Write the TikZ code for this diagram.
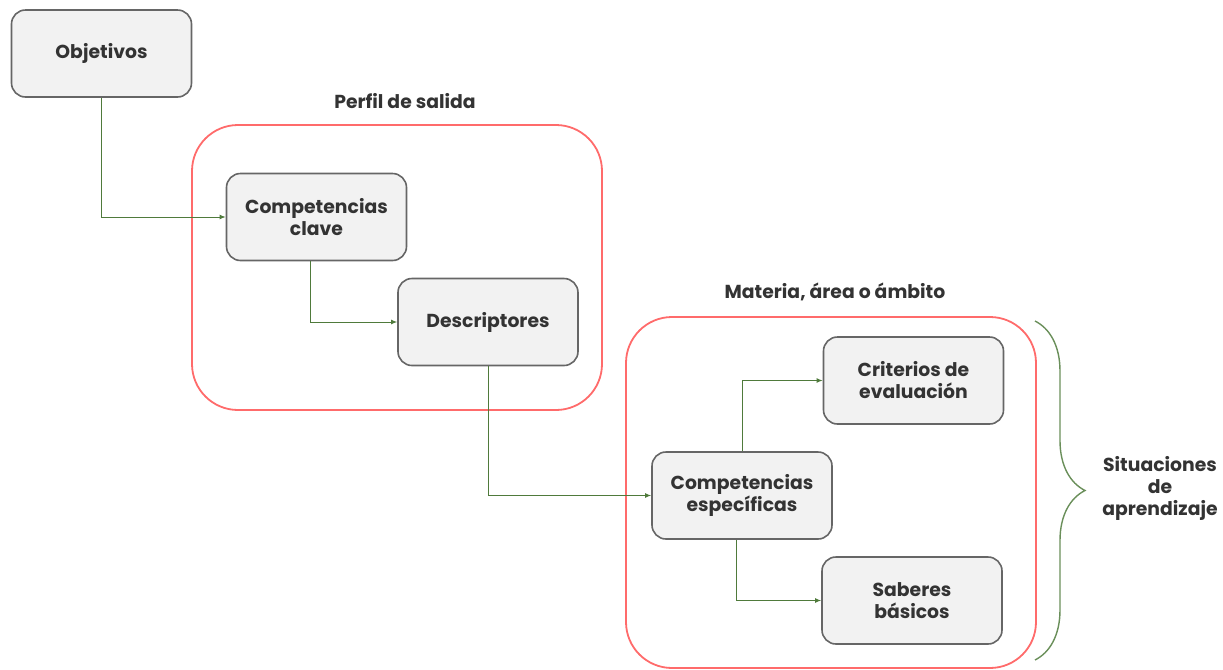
\documentclass[tikz,border=0pt]{standalone}
\usepackage{fontspec}
\setmainfont{Poppins}
\usetikzlibrary{arrows.meta,
                positioning,
                decorations.pathreplacing
                }
\definecolor{boxfill}{HTML}{F2F2F2}
\definecolor{boxline}{HTML}{666666}
\definecolor{frameline}{HTML}{FF6B6B}
\definecolor{linkgreen}{HTML}{4F7A3B}
\definecolor{bracegreen}{HTML}{6A8F5A}
\definecolor{txt}{HTML}{333333}

\begin{document}
\begin{tikzpicture}[
    x=0.5pt, y=-0.5pt,
    every node/.style = {text=txt, font=\fontsize{9.4}{11}\selectfont\bfseries},
    box/.style = {draw=boxline, fill=boxfill, line width=0.8pt, rounded corners=7pt,
                  minimum width=90pt, minimum height=43.5pt, inner sep=0pt,
                  align=center},
  frame/.style = {draw=frameline, line width=0.9pt, rounded corners=23pt,
                  inner sep=0pt},
   link/.style = {draw=linkgreen, line width=0.5pt,
                  -{Latex[length=3pt,width=2.4pt]}}
                    ]
\useasboundingbox (0,0) rectangle (1223,670);
\node (perfil)  [frame, minimum width=205pt, minimum height=142.5pt] at (397,267.5) {};
\node (materia) [frame, minimum width=205pt, minimum height=175.5pt] at (831,492.5) {};
\node [above=4pt of perfil.north, xshift=4pt]  {Perfil de salida};
\node [above=4pt of materia.north, xshift=2pt] {Materia, área o ámbito};

\node (obj)   [box] at (101.5,53.5)  {Objetivos};
\node (clave) [box] at (316.5,217)   {Competencias\\ clave};
\node (desc)  [box] at (488,322)     {Descriptores};
\node (espec) [box] at (742,495.5)   {Competencias\\ específicas};
\node (crit)  [box] at (913.5,380.5) {Criterios de\\ evaluación};
\node (sab)   [box] at (912,600.5)   {Saberes\\ básicos};

\draw[link] (obj.south) |- (clave.west);
\draw[link] ([xshift=-3pt]clave.south) |- (desc.west);
\draw[link] (desc.south) |- (espec.west);
\draw[link] (espec.north) |- (crit.west);
\draw[link] ([xshift=-3pt]espec.south) |- (sab.west);

\coordinate (bt) at (1035,321);
\coordinate (bb) at (1035,660);
\draw[bracegreen, line width=0.7pt,
      decorate, decoration={brace, amplitude=25pt}] (bt) -- (bb);
\node (sit) [align=center] at (1160,488) {Situaciones\\ de\\ aprendizaje};
\end{tikzpicture}
\end{document}
